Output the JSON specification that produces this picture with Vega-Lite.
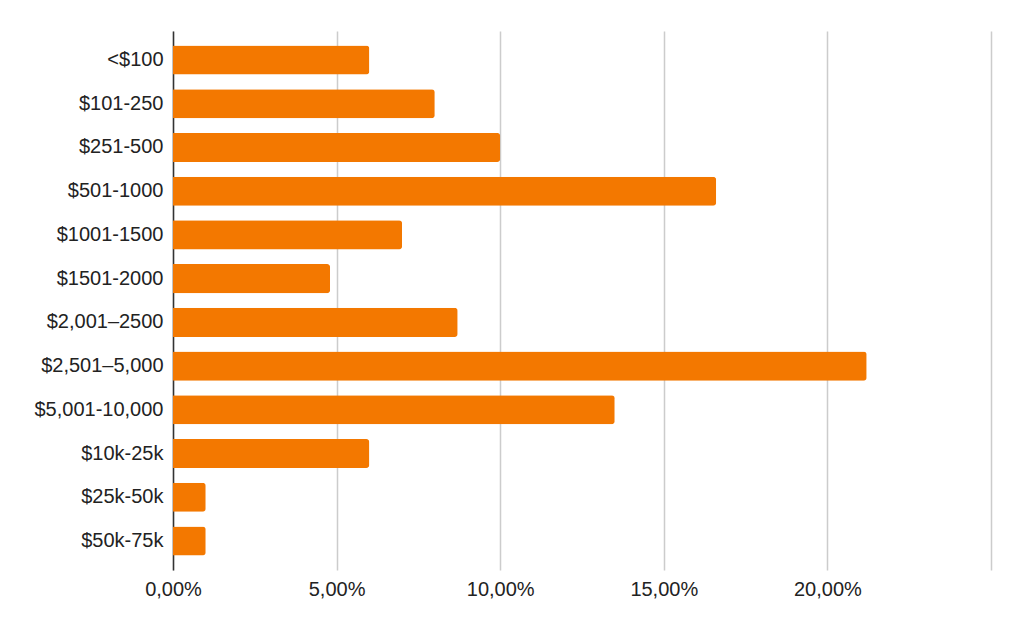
{
  "$schema": "https://vega.github.io/schema/vega-lite/v6.json",
  "width": 818,
  "height": 539,
  "autosize": {"type": "none"},
  "padding": {"left": 173, "top": 31, "right": 33, "bottom": 63},
  "background": "white",
  "config": {"view": {"stroke": null}, "font": "Liberation Sans"},
  "data": {
    "values": [
      {"range": "<$100", "share": 0.060},
      {"range": "$101-250", "share": 0.080},
      {"range": "$251-500", "share": 0.100},
      {"range": "$501-1000", "share": 0.166},
      {"range": "$1001-1500", "share": 0.070},
      {"range": "$1501-2000", "share": 0.048},
      {"range": "$2,001–2500", "share": 0.087},
      {"range": "$2,501–5,000", "share": 0.212},
      {"range": "$5,001-10,000", "share": 0.135},
      {"range": "$10k-25k", "share": 0.060},
      {"range": "$25k-50k", "share": 0.010},
      {"range": "$50k-75k", "share": 0.010}
    ]
  },
  "mark": {"type": "bar", "color": "#f37800", "cornerRadiusEnd": 3},
  "encoding": {
    "y": {
      "field": "range",
      "type": "nominal",
      "sort": null,
      "title": null,
      "scale": {"paddingInner": 0.335, "paddingOuter": 0.33},
      "axis": {
        "domain": true,
        "domainColor": "#333333",
        "domainWidth": 1.5,
        "ticks": false,
        "grid": false,
        "labelPadding": 10,
        "labelFontSize": 20,
        "labelColor": "#222222",
        "labelFont": "Liberation Sans"
      }
    },
    "x": {
      "field": "share",
      "type": "quantitative",
      "title": null,
      "scale": {"domain": [0, 0.25], "nice": false},
      "axis": {
        "values": [0, 0.05, 0.1, 0.15, 0.2, 0.25],
        "labelExpr": "datum.value >= 0.249 ? '' : replace(format(datum.value, '.2%'), '.', ',')",
        "labelFlush": false,
        "domain": false,
        "ticks": false,
        "grid": true,
        "gridColor": "#cccccc",
        "gridWidth": 1.5,
        "labelPadding": 9,
        "labelFontSize": 20,
        "labelColor": "#222222",
        "labelFont": "Liberation Sans"
      }
    }
  }
}
